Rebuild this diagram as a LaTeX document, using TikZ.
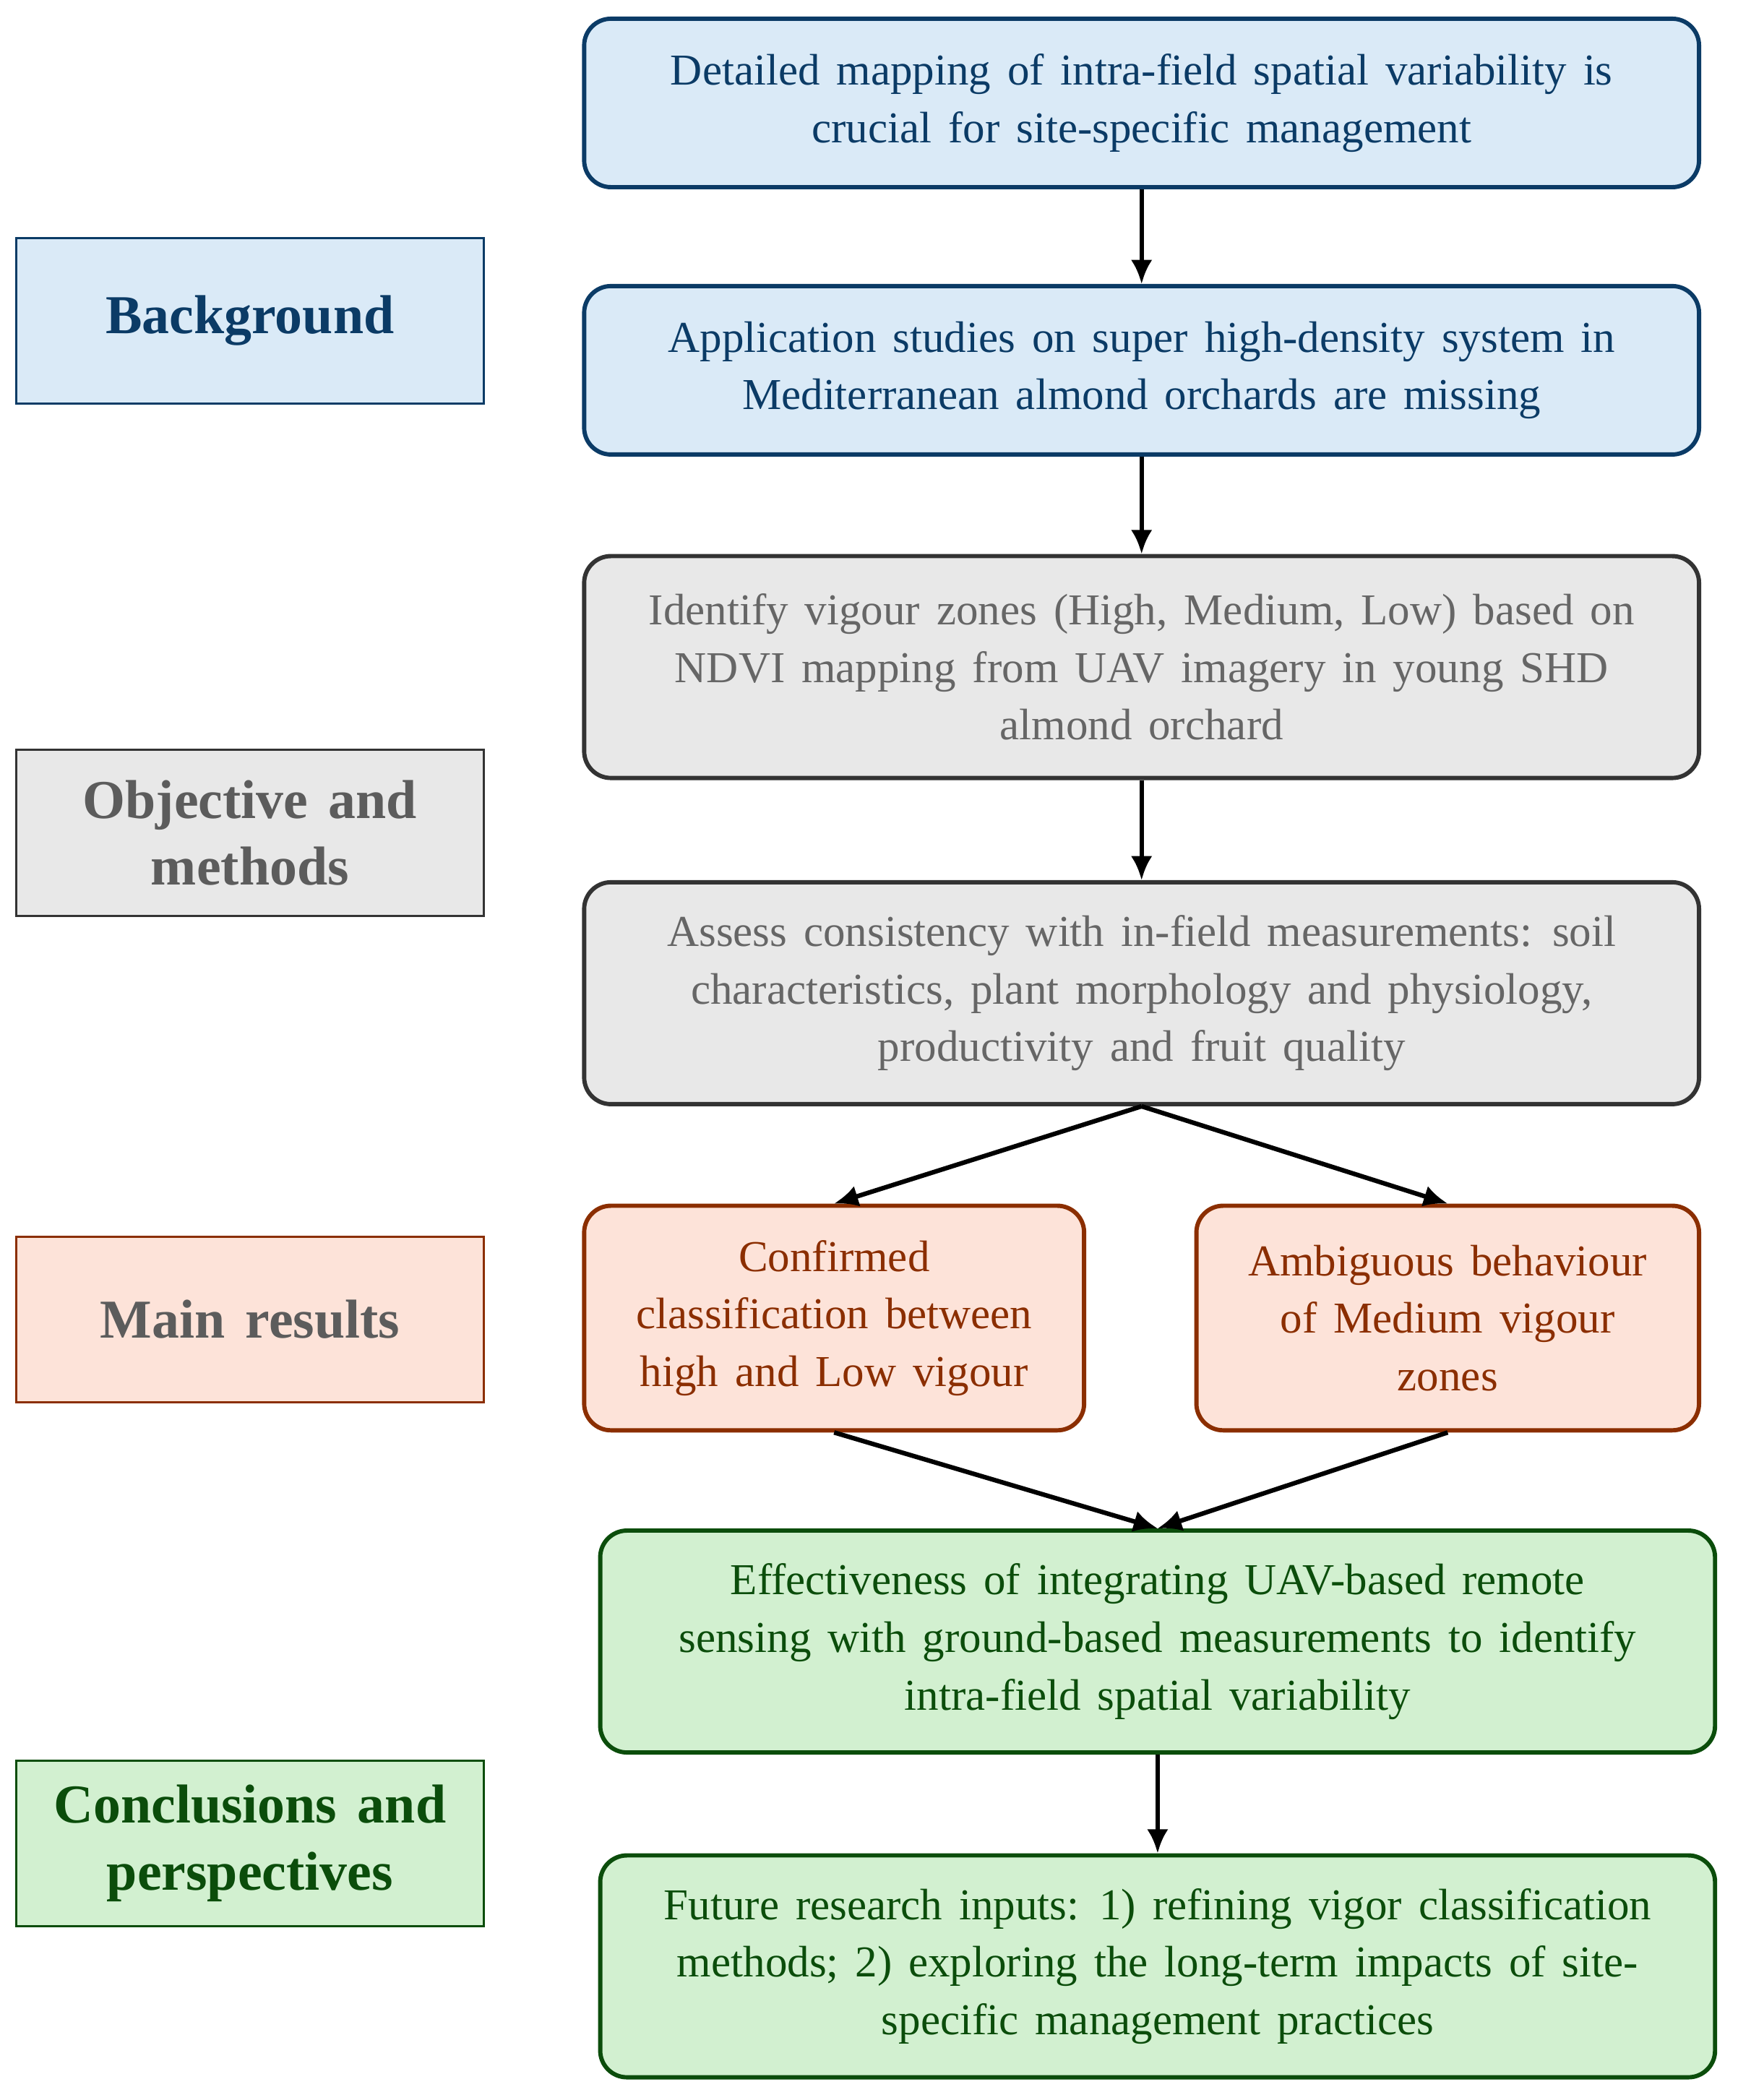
\documentclass[tikz,border=0pt]{standalone}
\usepackage{fontspec}
\setmainfont[WordSpace=1.5]{Liberation Serif}
\usetikzlibrary{arrows.meta}
\definecolor{bfill}{HTML}{DAEAF7}\definecolor{bdraw}{HTML}{0B3B66}
\definecolor{ofill}{HTML}{E8E8E8}\definecolor{odraw}{HTML}{333333}\definecolor{otext}{HTML}{666666}
\definecolor{rfill}{HTML}{FDE3D9}\definecolor{rdraw}{HTML}{8B2E00}
\definecolor{cfill}{HTML}{D2F0D0}\definecolor{cdraw}{HTML}{0B4D0B}
\begin{document}
\begin{tikzpicture}[x=0.5pt,y=-0.5pt,
 box/.style={rounded corners=10pt,line width=1.6pt,align=center,inner sep=0pt,font=\fontsize{16.5}{21.5}\selectfont},
 lab/.style={line width=0.8pt,align=center,inner sep=0pt,minimum width=175pt,minimum height=62pt,font=\fontsize{20.5}{25}\selectfont\bfseries},
 bg/.style={fill=bfill,draw=bdraw,text=bdraw},
 ob/.style={fill=ofill,draw=odraw,text=otext},
 rs/.style={fill=rfill,draw=rdraw,text=rdraw},
 cc/.style={fill=cfill,draw=cdraw,text=cdraw},
 arr/.style={-{Latex[length=9pt,width=8pt]},line width=1.7pt}]
\useasboundingbox (0,0) rectangle (1300,1571);
\node[box,bg,minimum width=417pt,minimum height=63pt] (b1) at (854,77) {Detailed mapping of intra-field spatial variability is\\crucial for site-specific management};
\node[box,bg,minimum width=417pt,minimum height=63pt] (b2) at (854,277) {Application studies on super high-density system in\\Mediterranean almond orchards are missing};
\node[box,ob,minimum width=417pt,minimum height=83pt] (o1) at (854,499) {Identify vigour zones (High, Medium, Low) based on\\NDVI mapping from UAV imagery in young SHD\\almond orchard};
\node[box,ob,minimum width=417pt,minimum height=83pt] (o2) at (854,743) {Assess consistency with in-field measurements: soil\\characteristics, plant morphology and physiology,\\productivity and fruit quality};
\node[box,rs,minimum width=187pt,minimum height=84pt] (r1) at (624,986) {Confirmed\\classification between\\high and Low vigour};
\node[box,rs,minimum width=188pt,minimum height=84pt] (r2) at (1083,986) {Ambiguous behaviour\\of Medium vigour\\zones};
\node[box,cc,minimum width=417pt,minimum height=83pt] (c1) at (866,1228) {Effectiveness of integrating UAV-based remote\\sensing with ground-based measurements to identify\\intra-field spatial variability};
\node[box,cc,minimum width=417pt,minimum height=83pt] (c2) at (866,1471) {Future research inputs: 1) refining vigor classification\\methods; 2) exploring the long-term impacts of site-\\specific management practices};
\node[lab,bg] (l1) at (187,240) {Background};
\node[lab,ob,text=otext!90!black] (l2) at (187,623) {Objective and\\methods};
\node[lab,rs,text=otext!90!black] (l3) at (187,987) {Main results};
\node[lab,cc] (l4) at (187,1379) {Conclusions and\\perspectives};
\draw[arr] (b1) -- (b2);
\draw[arr] (b2) -- (o1);
\draw[arr] (o1) -- (o2);
\draw[arr] (o2.south) -- (r1.north);
\draw[arr] (o2.south) -- (r2.north);
\draw[arr] (r1.south) -- (c1.north);
\draw[arr] (r2.south) -- (c1.north);
\draw[arr] (c1) -- (c2);
\end{tikzpicture}
\end{document}
